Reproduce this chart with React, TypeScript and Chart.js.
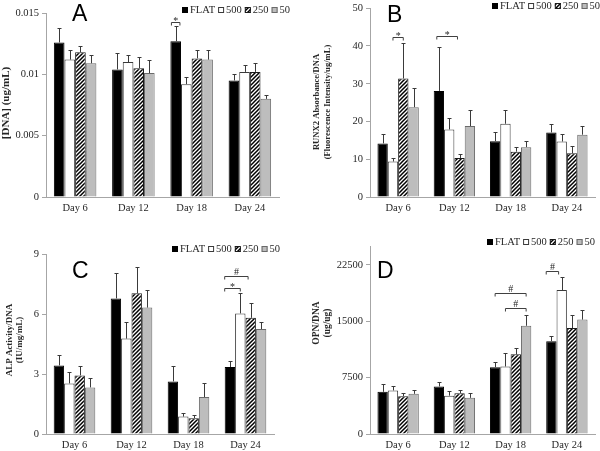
import React, { useEffect, useRef } from 'react';
import { Chart, registerables } from 'chart.js';

Chart.register(...registerables);

// ---------- data ----------
const DAYS = ['Day 6', 'Day 12', 'Day 18', 'Day 24'];
const SERIES = ['FLAT', '500', '250', '50'];

// Panel A: [DNA] (ug/mL)
const A_FLAT = [0.0126, 0.0104, 0.0127, 0.0095];
const A_500 = [0.0112, 0.011, 0.0092, 0.0102];
const A_250 = [0.0118, 0.0105, 0.0113, 0.0102];
const A_50 = [0.0109, 0.0101, 0.0112, 0.008];
const A_FLAT_ERR = [0.0012, 0.0013, 0.0012, 0.0005];
const A_500_ERR = [0.0008, 0.0006, 0.0006, 0.0006];
const A_250_ERR = [0.0005, 0.0009, 0.0007, 0.0007];
const A_50_ERR = [0.0007, 0.0011, 0.0008, 0.0003];
const A_TICKS = [0, 0.005, 0.01, 0.015];
const A_TICK_LABELS = ['0', '0.005', '0.01', '0.015'];

// Panel B: RUNX2 Absorbance/DNA
const B_FLAT = [14.2, 28.1, 14.8, 17.1];
const B_500 = [9.4, 17.9, 19.4, 14.7];
const B_250 = [31.4, 10.3, 12.0, 11.6];
const B_50 = [23.8, 18.8, 13.2, 16.5];
const B_FLAT_ERR = [2.4, 11.6, 2.5, 2.3];
const B_500_ERR = [0.9, 3.0, 3.6, 2.1];
const B_250_ERR = [9.3, 1.1, 1.3, 2.0];
const B_50_ERR = [5.2, 4.3, 1.6, 2.4];
const B_TICKS = [0, 10, 20, 30, 40, 50];
const B_TICK_LABELS = ['0', '10', '20', '30', '40', '50'];

// Panel C: ALP Activity/DNA
const C_FLAT = [3.43, 6.78, 2.63, 3.35];
const C_500 = [2.53, 4.77, 0.87, 6.03];
const C_250 = [2.93, 7.04, 0.79, 5.81];
const C_50 = [2.33, 6.32, 1.85, 5.25];
const C_FLAT_ERR = [0.5, 1.25, 0.75, 0.28];
const C_500_ERR = [0.59, 0.82, 0.16, 1.01];
const C_250_ERR = [0.49, 1.3, 0.14, 0.72];
const C_50_ERR = [0.46, 0.88, 0.69, 0.34];
const C_TICKS = [0, 3, 6, 9];
const C_TICK_LABELS = ['0', '3', '6', '9'];

// Panel D: OPN/DNA
const D_FLAT = [5610, 6320, 8890, 12350];
const D_500 = [5790, 5100, 8980, 19140];
const D_250 = [5030, 5430, 10600, 14080];
const D_50 = [5340, 4810, 14390, 15210];
const D_FLAT_ERR = [1040, 600, 730, 730];
const D_500_ERR = [640, 650, 1780, 1740];
const D_250_ERR = [420, 380, 860, 1790];
const D_50_ERR = [540, 640, 1460, 1280];
const D_TICKS = [0, 7500, 15000, 22500];
const D_TICK_LABELS = ['0', '7500', '15000', '22500'];

// significance brackets: category, from/to bar slot (0=FLAT..3=50), level, label
const A_BRACKETS = [{ cat: 2, from: -0.4, to: 0.4, level: 0.0143, label: '*' }];
const B_BRACKETS = [
  { cat: 0, from: 1, to: 2, level: 42.4, label: '*' },
  { cat: 1, from: -0.2, to: 1.8, level: 42.7, label: '*' },
];
const C_BRACKETS = [
  { cat: 3, from: -0.5, to: 1, level: 7.3, label: '*' },
  { cat: 3, from: -0.5, to: 1.75, level: 7.88, label: '#' },
];
const D_BRACKETS = [
  { cat: 2, from: 0, to: 3, level: 18800, label: '#' },
  { cat: 2, from: 1, to: 3, level: 16800, label: '#' },
  { cat: 3, from: -0.5, to: 0.7, level: 21650, label: '#' },
];

// ---------- styles ----------
const SERIF = '"Liberation Serif", "Times New Roman", serif';
const SANS = '"Liberation Sans", Arial, sans-serif';
const TEXT = '#262626';
const AXIS = '#a6a6a6';
const ERRC = '#3a3a3a';
const GRAY_FILL = '#bdbdbd';
const GRAY_EDGE = '#6a6a6a';

function makeHatch(): CanvasPattern | string {
  const c = document.createElement('canvas');
  c.width = 4;
  c.height = 4;
  const g = c.getContext('2d');
  if (!g) return '#777';
  g.fillStyle = '#fff';
  g.fillRect(0, 0, 4, 4);
  g.strokeStyle = '#000';
  g.lineWidth = 1.5;
  g.beginPath();
  g.moveTo(-1, 5);
  g.lineTo(5, -1);
  g.moveTo(-1, 1);
  g.lineTo(1, -1);
  g.moveTo(3, 5);
  g.lineTo(5, 3);
  g.stroke();
  return g.createPattern(c, 'repeat') || '#777';
}

type Bracket = { cat: number; from: number; to: number; level: number; label: string };
type PanelSpec = {
  left: number; top: number; w: number; h: number;
  area: { l: number; t: number; r: number; b: number };
  ticks: number[]; tickLabels: string[];
  values: number[][]; errs: number[][];
  brackets: Bracket[];
  letter: { text: string; x: number; y: number };
  legend: { x: number; y: number };
  title: { lines: string[]; xs: number[]; y: number; size: number };
  catPct: number;
};

const PANELS: PanelSpec[] = [
  {
    left: 0, top: 0, w: 300, h: 225,
    area: { l: 46, t: 13, r: 279, b: 197 },
    ticks: A_TICKS, tickLabels: A_TICK_LABELS,
    values: [A_FLAT, A_500, A_250, A_50],
    errs: [A_FLAT_ERR, A_500_ERR, A_250_ERR, A_50_ERR],
    brackets: A_BRACKETS,
    letter: { text: 'A', x: 72, y: 21 },
    legend: { x: 182, y: 10 },
    title: { lines: ['[DNA] (ug/mL)'], xs: [6], y: 103, size: 11 },
    catPct: 0.73,
  },
  {
    left: 300, top: 0, w: 300, h: 225,
    area: { l: 70, t: 5, r: 295, b: 197 },
    ticks: B_TICKS, tickLabels: B_TICK_LABELS,
    values: [B_FLAT, B_500, B_250, B_50],
    errs: [B_FLAT_ERR, B_500_ERR, B_250_ERR, B_50_ERR],
    brackets: B_BRACKETS,
    letter: { text: 'B', x: 87, y: 22 },
    legend: { x: 192, y: 6 },
    title: { lines: ['RUNX2 Absorbance/DNA', '(Fluorescence Intensity/ug/mL)'], xs: [17, 28], y: 102, size: 8.6 },
    catPct: 0.735,
  },
  {
    left: 0, top: 225, w: 300, h: 226,
    area: { l: 46, t: 29, r: 274, b: 209 },
    ticks: C_TICKS, tickLabels: C_TICK_LABELS,
    values: [C_FLAT, C_500, C_250, C_50],
    errs: [C_FLAT_ERR, C_500_ERR, C_250_ERR, C_50_ERR],
    brackets: C_BRACKETS,
    letter: { text: 'C', x: 72, y: 53 },
    legend: { x: 172, y: 24 },
    title: { lines: ['ALP Activity/DNA', '(IU/mg/mL)'], xs: [10, 20], y: 115, size: 9 },
    catPct: 0.73,
  },
  {
    left: 300, top: 225, w: 300, h: 226,
    area: { l: 70, t: 21, r: 295, b: 209 },
    ticks: D_TICKS, tickLabels: D_TICK_LABELS,
    values: [D_FLAT, D_500, D_250, D_50],
    errs: [D_FLAT_ERR, D_500_ERR, D_250_ERR, D_50_ERR],
    brackets: D_BRACKETS,
    letter: { text: 'D', x: 77, y: 53 },
    legend: { x: 187, y: 17 },
    title: { lines: ['OPN/DNA', '(ug/ug)'], xs: [17, 28], y: 98, size: 9.5 },
    catPct: 0.735,
  },
];

function buildConfig(spec: PanelSpec): any {
  const hatch = makeHatch();
  const fills: any[] = ['#000000', '#ffffff', hatch, GRAY_FILL];
  const edges = ['#000000', '#3a3a3a', '#1a1a1a', GRAY_EDGE];
  const yMax = spec.ticks[spec.ticks.length - 1];
  const axisTop = spec.ticks === D_TICKS ? 25000 : yMax;

  const overlay = {
    id: 'overlay',
    afterDatasetsDraw(chart: any) {
      const ctx: CanvasRenderingContext2D = chart.ctx;
      const ys = chart.scales.y;
      ctx.save();
      // error bars
      ctx.strokeStyle = ERRC;
      ctx.lineWidth = 1;
      spec.values.forEach((vals, di) => {
        const meta = chart.getDatasetMeta(di);
        meta.data.forEach((el: any, i: number) => {
          const x = Math.round(el.x) + 0.5;
          const y0 = ys.getPixelForValue(vals[i]);
          const y1 = Math.round(ys.getPixelForValue(vals[i] + spec.errs[di][i])) + 0.5;
          ctx.beginPath();
          ctx.moveTo(x, y0);
          ctx.lineTo(x, y1);
          ctx.moveTo(x - 2, y1);
          ctx.lineTo(x + 2, y1);
          ctx.stroke();
        });
      });
      // brackets
      ctx.strokeStyle = '#404040';
      ctx.fillStyle = TEXT;
      ctx.font = `10px ${SERIF}`;
      ctx.textAlign = 'center';
      ctx.textBaseline = 'alphabetic';
      spec.brackets.forEach((b) => {
        const e0 = chart.getDatasetMeta(0).data[b.cat];
        const bw = e0.width;
        const x1 = e0.x + b.from * bw;
        const x2 = e0.x + b.to * bw;
        const y = Math.round(ys.getPixelForValue(b.level)) + 0.5;
        ctx.beginPath();
        ctx.moveTo(x1, y + 3);
        ctx.lineTo(x1, y);
        ctx.lineTo(x2, y);
        ctx.lineTo(x2, y + 3);
        ctx.stroke();
        ctx.fillText(b.label, (x1 + x2) / 2, b.label === '*' ? y + 1 : y - 2);
      });
      ctx.restore();
    },
    afterDraw(chart: any) {
      const ctx: CanvasRenderingContext2D = chart.ctx;
      ctx.save();
      // panel letter
      ctx.fillStyle = '#000';
      ctx.font = `23px ${SANS}`;
      ctx.textAlign = 'left';
      ctx.textBaseline = 'alphabetic';
      ctx.fillText(spec.letter.text, spec.letter.x, spec.letter.y);
      // legend
      ctx.font = `10.5px ${SERIF}`;
      ctx.textBaseline = 'middle';
      let cx = spec.legend.x;
      const ly = spec.legend.y;
      SERIES.forEach((name, i) => {
        ctx.fillStyle = fills[i];
        ctx.fillRect(cx, ly - 3, 6, 6);
        ctx.strokeStyle = edges[i];
        ctx.lineWidth = 1;
        ctx.strokeRect(cx + 0.5, ly - 2.5, 5, 5);
        cx += 8;
        ctx.fillStyle = TEXT;
        ctx.fillText(name, cx, ly + 0.5);
        cx += ctx.measureText(name).width + 3;
      });
      // y title
      ctx.font = `bold ${spec.title.size}px ${SERIF}`;
      ctx.fillStyle = TEXT;
      ctx.textAlign = 'center';
      ctx.textBaseline = 'middle';
      spec.title.lines.forEach((line, i) => {
        ctx.save();
        ctx.translate(spec.title.xs[i], spec.title.y);
        ctx.rotate(-Math.PI / 2);
        ctx.fillText(line, 0, 0);
        ctx.restore();
      });
      ctx.restore();
    },
  };

  return {
    type: 'bar',
    data: {
      labels: DAYS,
      datasets: SERIES.map((name, i) => ({
        label: name,
        data: spec.values[i],
        backgroundColor: fills[i],
        borderColor: edges[i],
        borderWidth: 1,
        categoryPercentage: spec.catPct,
        barPercentage: 1,
      })),
    },
    options: {
      animation: false,
      responsive: false,
      maintainAspectRatio: false,
      events: [],
      layout: { padding: { top: spec.area.t, right: spec.w - spec.area.r, bottom: 0, left: 0 } },
      plugins: { legend: { display: false }, tooltip: { enabled: false }, title: { display: false } },
      scales: {
        x: {
          grid: { display: false, drawTicks: false },
          border: { color: AXIS, width: 1 },
          ticks: { font: { family: SERIF, size: 10.5 }, color: TEXT, padding: 5, maxRotation: 0 },
          afterFit: (s: any) => { s.height = spec.h - spec.area.b; },
        },
        y: {
          min: 0,
          max: axisTop,
          afterBuildTicks: (s: any) => { s.ticks = spec.ticks.map((v) => ({ value: v })); },
          ticks: {
            font: { family: SERIF, size: 10.5, lineHeight: 1 },
            color: TEXT,
            padding: 3,
            callback: (v: any) => {
              const k = spec.ticks.indexOf(Number(v));
              return k >= 0 ? spec.tickLabels[k] : '';
            },
          },
          grid: { display: true, drawOnChartArea: false, drawTicks: true, tickLength: 4, color: AXIS },
          border: { color: AXIS, width: 1 },
          afterFit: (s: any) => { s.width = spec.area.l; },
        },
      },
    },
    plugins: [overlay],
  };
}

function Panel({ spec }: { spec: PanelSpec }) {
  const ref = useRef<HTMLCanvasElement>(null);
  useEffect(() => {
    if (!ref.current) return;
    const chart = new Chart(ref.current, buildConfig(spec));
    return () => chart.destroy();
  }, [spec]);
  return (
    <canvas
      ref={ref}
      width={spec.w}
      height={spec.h}
      style={{ position: 'absolute', left: spec.left, top: spec.top, width: spec.w, height: spec.h }}
    />
  );
}

export default function App() {
  return (
    <div style={{ position: 'absolute', left: 0, top: 0, width: 600, height: 451, background: '#fff', overflow: 'hidden' }}>
      {PANELS.map((p, i) => (
        <Panel key={i} spec={p} />
      ))}
    </div>
  );
}
